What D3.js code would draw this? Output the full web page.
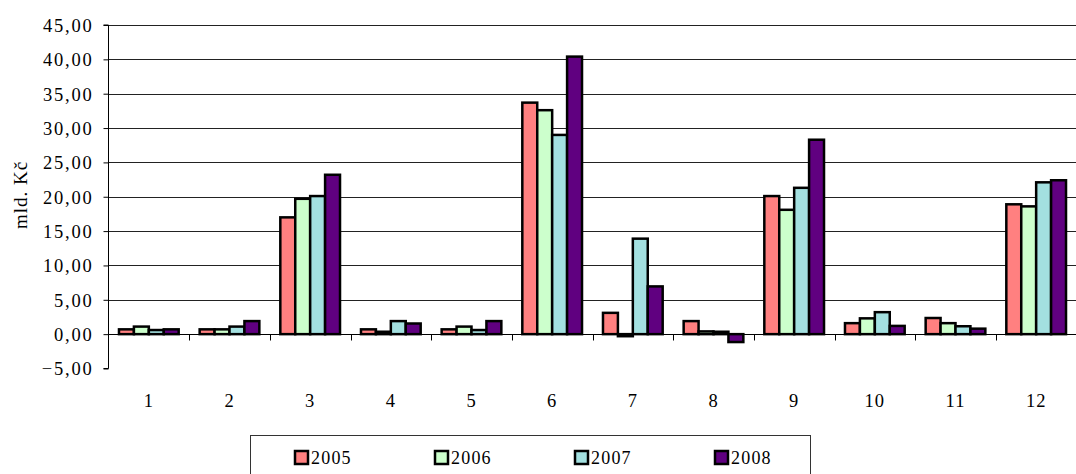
<!DOCTYPE html>
<html>
<head>
<meta charset="utf-8">
<script src="https://cdn.jsdelivr.net/npm/d3@7"></script>
<style>
  body { margin: 0; background: white; }
  text { font-family: "Liberation Serif", "Times New Roman", serif; fill: black; }
</style>
</head>
<body>
<div id="container"></div>
<script>
const categories = ['1', '2', '3', '4', '5', '6', '7', '8', '9', '10', '11', '12']
const years = ['2005', '2006', '2007', '2008']
const values2005 = [0.7, 0.7, 17.0, 0.7, 0.7, 33.7, 3.1, 1.9, 20.1, 1.6, 2.35, 18.9]
const values2006 = [1.1, 0.7, 19.7, 0.35, 1.1, 32.6, -0.3, 0.4, 18.1, 2.3, 1.6, 18.6]
const values2007 = [0.6, 1.1, 20.1, 1.9, 0.6, 29.0, 13.9, 0.35, 21.3, 3.2, 1.15, 22.1]
const values2008 = [0.7, 1.9, 23.2, 1.55, 1.9, 40.4, 6.95, -1.15, 28.3, 1.2, 0.8, 22.4]
const yTicks = [-5, 0, 5, 10, 15, 20, 25, 30, 35, 40, 45]
const colors = ['#ff8080', '#ccffcc', '#a3e0e0', '#600080']

const seriesValues = [values2005, values2006, values2007, values2008]

var width = 1076
var height = 474
var left = 108.5
var right = 1076.5

var svg = d3.select('#container').append('svg')
    .attr('width', width)
    .attr('height', height)

var x0 = d3.scaleBand().domain(categories).range([left, right])
var bw = x0.bandwidth()
var x1 = d3.scaleBand().domain(years).range([bw * 0.13, bw * 0.87])
var y = d3.scaleLinear().domain([-5, 45]).range([368.5, 25])

// gridlines
svg.append('g')
    .selectAll('line')
    .data(yTicks.filter(d => d > 0))
    .enter().append('line')
    .attr('x1', left)
    .attr('x2', width)
    .attr('y1', d => Math.round(y(d)) + 0.5)
    .attr('y2', d => Math.round(y(d)) + 0.5)
    .attr('stroke', '#222')
    .attr('stroke-width', 1)

// y axis
var yAxis = d3.axisLeft(y)
    .tickValues(yTicks)
    .tickSize(5)
    .tickFormat(d => d3.format('.2f')(d).replace('.', ','))
var gy = svg.append('g')
    .attr('transform', 'translate(' + left + ',0)')
    .call(yAxis)
gy.select('.domain').attr('stroke', 'black').attr('d', 'M-5,' + y(-5) + 'H0V' + y(45) + 'H-5')
gy.selectAll('.tick line').attr('stroke', 'black')
gy.selectAll('.tick text')
    .attr('x', -15)
    .attr('dy', '0.35em')
    .style('font-size', '18.5px')
    .style('letter-spacing', '1.8px')
    .style('font-family', '"Liberation Serif", "Times New Roman", serif')

// bars
var groups = svg.append('g')
    .selectAll('g')
    .data(categories)
    .enter().append('g')
    .attr('transform', d => 'translate(' + x0(d) + ',0)')

groups.selectAll('rect')
    .data((c, i) => years.map((yr, j) => ({ year: yr, value: seriesValues[j][i], color: colors[j] })))
    .enter().append('rect')
    .attr('x', d => x1(d.year))
    .attr('width', x1.bandwidth())
    .attr('y', d => y(Math.max(0, d.value)))
    .attr('height', d => Math.abs(y(d.value) - y(0)))
    .attr('fill', d => d.color)
    .attr('stroke', 'black')
    .attr('stroke-width', 2.5)

// x axis (zero line)
var zeroY = Math.round(y(0)) + 0.5
svg.append('line')
    .attr('x1', left).attr('x2', width)
    .attr('y1', zeroY).attr('y2', zeroY)
    .attr('stroke', 'black')

svg.append('g')
    .selectAll('line')
    .data(categories.slice(1))
    .enter().append('line')
    .attr('x1', d => Math.round(x0(d)) + 0.5)
    .attr('x2', d => Math.round(x0(d)) + 0.5)
    .attr('y1', zeroY)
    .attr('y2', zeroY + 6)
    .attr('stroke', 'black')

svg.append('g')
    .selectAll('text')
    .data(categories)
    .enter().append('text')
    .attr('x', d => x0(d) + bw / 2)
    .attr('y', 407)
    .attr('text-anchor', 'middle')
    .style('font-size', '18.5px')
    .style('letter-spacing', '1px')
    .text(d => d)

// y title
svg.append('text')
    .attr('transform', 'translate(27,195) rotate(-90)')
    .attr('text-anchor', 'middle')
    .style('font-size', '19px')
    .style('letter-spacing', '1px')
    .text('mld. Kč')

// legend
var legend = svg.append('g')
legend.append('rect')
    .attr('x', 250.5)
    .attr('y', 435.5)
    .attr('width', 560)
    .attr('height', 50)
    .attr('fill', 'white')
    .attr('stroke', '#333')

var lx = d3.scalePoint().domain(years).range([294, 714])
var items = legend.selectAll('g.item')
    .data(years)
    .enter().append('g')
    .attr('class', 'item')
    .attr('transform', d => 'translate(' + lx(d) + ',450)')
items.append('rect')
    .attr('x', 1).attr('y', 1)
    .attr('width', 13).attr('height', 13)
    .attr('fill', (d, i) => colors[i])
    .attr('stroke', 'black')
    .attr('stroke-width', 2.5)
items.append('text')
    .attr('x', 17)
    .attr('y', 14)
    .style('font-size', '18px')
    .style('letter-spacing', '1.2px')
    .text(d => d)
</script>
</body>
</html>
